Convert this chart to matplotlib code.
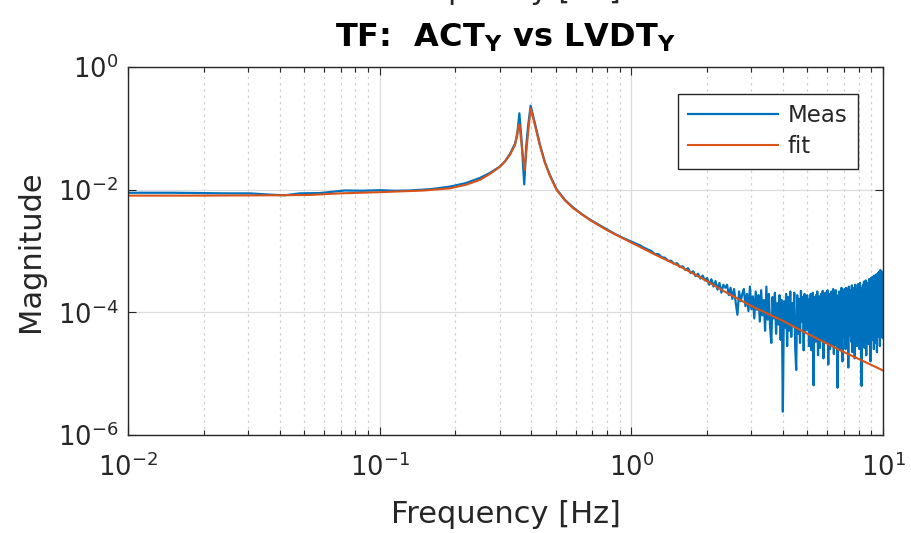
import numpy as np
import matplotlib
matplotlib.use("Agg")
import matplotlib.pyplot as plt
from matplotlib.ticker import FixedLocator, NullLocator

# measured TF, smooth part below 1.2 Hz
meas_freq_low = [0.010, 0.015, 0.0193, 0.025, 0.0305, 0.0367, 0.042, 0.0482, 0.058, 0.0727,
                 0.085, 0.10, 0.115, 0.132, 0.16, 0.19, 0.22, 0.25, 0.274, 0.30,
                 0.315, 0.329, 0.345, 0.352, 0.359, 0.3666, 0.3754, 0.382, 0.389, 0.398,
                 0.405, 0.414, 0.4335, 0.4537, 0.475, 0.505, 0.545, 0.588, 0.635, 0.685,
                 0.74, 0.80, 0.86, 0.93, 1.00, 1.04, 1.08, 1.12, 1.16]
meas_mag_low = [0.0089, 0.0089, 0.0088, 0.0087, 0.0087, 0.0083, 0.0081, 0.0087, 0.0088, 0.0097,
                0.0096, 0.0098, 0.0096, 0.0097, 0.0102, 0.0112, 0.0128, 0.0155, 0.0187, 0.0237,
                0.029, 0.038, 0.056, 0.078, 0.176, 0.060, 0.0122, 0.050, 0.110, 0.234,
                0.175, 0.120, 0.054, 0.028, 0.0172, 0.0101, 0.0068, 0.0051, 0.0040, 0.00325,
                0.0027, 0.00225, 0.00190, 0.00162, 0.00142, 0.00132, 0.00124, 0.00114, 0.00106]

# measured TF 1.2 - 4.96 Hz (0.04 Hz bins), log10 of magnitude
mid_f0, mid_df = 1.2, 0.04
meas_logmag_mid = [
    -3.00, -3.05, -3.05, -3.10, -3.11, -3.16, -3.16, -3.21, -3.20, -3.26,
    -3.25, -3.31, -3.28, -3.36, -3.33, -3.41, -3.37, -3.45, -3.40, -3.48,
    -3.44, -3.55, -3.46, -3.58, -3.49, -3.63, -3.52, -3.68, -3.55, -3.60,
    -3.55, -3.72, -3.60, -3.78, -3.62, -3.85, -4.04, -3.66, -3.82, -3.70,
    -3.62, -3.90, -3.70, -3.98, -3.58, -3.95, -3.74, -4.10, -3.66, -3.96,
    -3.72, -4.15, -3.64, -4.05, -3.80, -4.30, -3.58, -4.12, -3.70, -4.25,
    -4.50, -3.75, -4.10, -3.68, -4.35, -3.85, -4.20, -3.72, -4.45, -3.80,
    -5.62, -3.82, -4.25, -3.70, -4.55, -3.75, -4.30, -3.66, -4.40, -3.85,
    -4.20, -3.68, -4.60, -4.94, -3.72, -4.35, -3.78, -4.50, -3.65, -4.15,
    -3.75, -4.62, -3.70, -4.30, -3.82,
]

# measured TF 5 - 10 Hz (0.02 Hz bins), log10 of magnitude
high_f0, high_df = 5.0, 0.02
meas_logmag_high = [
    -3.72, -4.28, -3.85, -4.05, -4.55, -3.78, -3.98, -4.40, -3.70, -4.18,
    -4.62, -3.82, -4.10, -3.68, -4.35, -5.19, -4.02, -3.75, -4.25, -3.90,
    -4.48, -3.72, -4.15, -3.95, -3.66, -4.38, -4.70, -3.88, -4.05, -3.74,
    -4.30, -4.58, -3.80, -4.00, -3.70, -4.45, -3.92, -4.22, -3.65, -4.12,
    -4.75, -3.86, -3.72, -4.32, -4.05, -3.68, -4.50, -3.95, -4.18, -3.76,
    -4.42, -3.64, -4.08, -4.85, -3.90, -3.70, -4.28, -3.98, -4.60, -3.74,
    -4.02, -4.38, -3.66, -3.94, -4.52, -3.80, -4.15, -3.62, -4.30, -4.68,
    -3.84, -3.70, -4.22, -4.45, -3.92, -3.64, -4.12, -4.55, -3.78, -4.00,
    -5.23, -4.10, -3.72, -3.96, -4.40, -3.66, -4.20, -3.88, -4.62, -3.70,
    -4.05, -4.35, -3.60, -3.90, -4.50, -4.80, -3.82, -3.68, -4.25, -3.95,
    -4.15, -3.62, -4.42, -3.86, -4.05, -4.60, -3.74, -3.60, -4.30, -3.98,
    -4.55, -3.80, -3.66, -4.20, -4.90, -3.92, -3.58, -4.10, -4.38, -3.76,
    -3.64, -4.28, -4.00, -3.70, -4.48, -3.84, -3.56, -4.15, -4.65, -3.90,
    -3.72, -4.05, -4.40, -3.60, -3.88, -4.25, -4.75, -3.78, -3.55, -4.12,
    -4.35, -3.82, -3.62, -4.02, -4.55, -3.70, -3.92, -4.20, -3.54, -4.45,
    -3.86, -3.64, -4.18, -4.60, -3.76, -3.52, -4.00, -4.32, -3.68, -3.95,
    -4.50, -5.20, -4.10, -3.60, -3.80, -4.25, -3.56, -4.05, -4.42, -3.72,
    -3.50, -4.15, -4.58, -3.84, -3.62, -4.30, -3.90, -3.48, -4.08, -4.70,
    -3.78, -3.58, -4.22, -3.95, -3.52, -4.40, -4.05, -3.66, -3.86, -4.52,
    -3.46, -4.00, -4.35, -3.70, -3.55, -4.12, -4.80, -3.82, -3.44, -4.25,
    -3.92, -3.60, -4.45, -3.75, -3.42, -4.05, -4.30, -3.66, -3.50, -4.18,
    -4.60, -3.80, -3.40, -3.98, -4.35, -3.58, -3.72, -4.50, -3.46, -3.90,
    -4.22, -3.38, -3.85, -4.65, -3.62, -3.44, -4.10, -3.76, -3.36, -4.40,
    -3.95, -3.52, -3.34, -4.28, -3.70, -3.90, -4.55, -3.42, -3.31, -4.05,
    -3.66, -4.35, -3.48, -3.33, -3.88, -4.15, -3.56, -3.40, -4.42, -3.74,
    -3.60,
]

# fitted model
fit_freq = [0.010, 0.0193, 0.0402, 0.0529, 0.0695, 0.10, 0.15, 0.19, 0.22, 0.25,
            0.274, 0.30, 0.315, 0.329, 0.345, 0.3556, 0.359, 0.3666, 0.3767, 0.388,
            0.398, 0.414, 0.4335, 0.4537, 0.475, 0.505, 0.545, 0.588, 0.685, 0.798,
            1.0, 1.26, 1.56, 1.93, 2.32, 3.01, 4.02, 4.97, 6.95, 10.0]
fit_mag = [0.0080, 0.0080, 0.0081, 0.0082, 0.0087, 0.0091, 0.0097, 0.0105, 0.0120, 0.0144,
           0.0180, 0.0235, 0.029, 0.0367, 0.0535, 0.106, 0.116, 0.0535, 0.0209, 0.078,
           0.212, 0.113, 0.0515, 0.0272, 0.0167, 0.00987, 0.00665, 0.00497, 0.0032, 0.0022,
           0.00137, 8.5e-4, 5.6e-4, 3.5e-4, 2.24e-4, 1.26e-4, 7.2e-5, 4.55e-5, 2.28e-5, 1.13e-5]

BLUE = "#0072BD"
ORANGE = "#D95319"
DARK = "#262626"

plt.rcParams["font.family"] = "DejaVu Sans"
plt.rcParams["mathtext.fontset"] = "dejavusans"

meas_freq = np.concatenate([
    meas_freq_low,
    mid_f0 + mid_df * np.arange(len(meas_logmag_mid)),
    high_f0 + high_df * np.arange(len(meas_logmag_high)),
])
meas_mag = np.concatenate([
    meas_mag_low,
    10.0 ** np.array(meas_logmag_mid),
    10.0 ** np.array(meas_logmag_high),
])

fig = plt.figure(figsize=(9.11, 5.33), dpi=100)
ax = fig.add_axes([128 / 911, 1 - 435 / 533, 755 / 911, 368 / 533])

ax.loglog(meas_freq, meas_mag, color=BLUE, lw=1.6, label="Meas")
ax.loglog(fit_freq, fit_mag, color=ORANGE, lw=1.5, label="fit")

ax.set_xlim(1e-2, 1e1)
ax.set_ylim(1e-6, 1e0)
ax.yaxis.set_major_locator(FixedLocator([1e-6, 1e-4, 1e-2, 1e0]))
ax.yaxis.set_minor_locator(NullLocator())

ax.set_axisbelow(True)
ax.grid(which="major", color="#dcdcdc", lw=0.9)
ax.grid(which="minor", axis="x", color="#d2d2d2", lw=0.9, ls=(0, (2, 3)))

for s in ax.spines.values():
    s.set_color(DARK)
    s.set_linewidth(1.0)
ax.tick_params(which="both", direction="in", top=True, right=True, color=DARK,
               labelcolor=DARK, labelsize=18.5, width=0.8)
ax.tick_params(which="major", length=6)
ax.tick_params(which="minor", length=3.5)
ax.tick_params(axis="x", pad=13)
ax.tick_params(axis="y", pad=7)

ax.set_xlabel("Frequency [Hz]", fontsize=22, color=DARK, labelpad=13)
ax.set_ylabel("Magnitude", fontsize=22, color=DARK, labelpad=9)
ax.set_title(r"TF:  ACT$_{\mathbf{Y}}$ vs LVDT$_{\mathbf{Y}}$", fontsize=23,
             fontweight="bold", color="black", pad=15)

# x label of the panel above, mostly cut off by the figure edge
fig.text(505.5 / 911, 1 + 1 / 533, "Frequency [Hz]", fontsize=22, color=DARK,
         ha="center", va="baseline")

leg = ax.legend(loc="upper right", bbox_to_anchor=(0.9669, 0.9266), borderaxespad=0,
                fancybox=False, edgecolor=DARK, framealpha=1, fontsize=16.5,
                handlelength=3.9, handletextpad=0.45, labelspacing=0.35, borderpad=0.45)
leg.get_frame().set_linewidth(1.0)
for t in leg.get_texts():
    t.set_color(DARK)

fig.savefig("out.png", dpi=100)
